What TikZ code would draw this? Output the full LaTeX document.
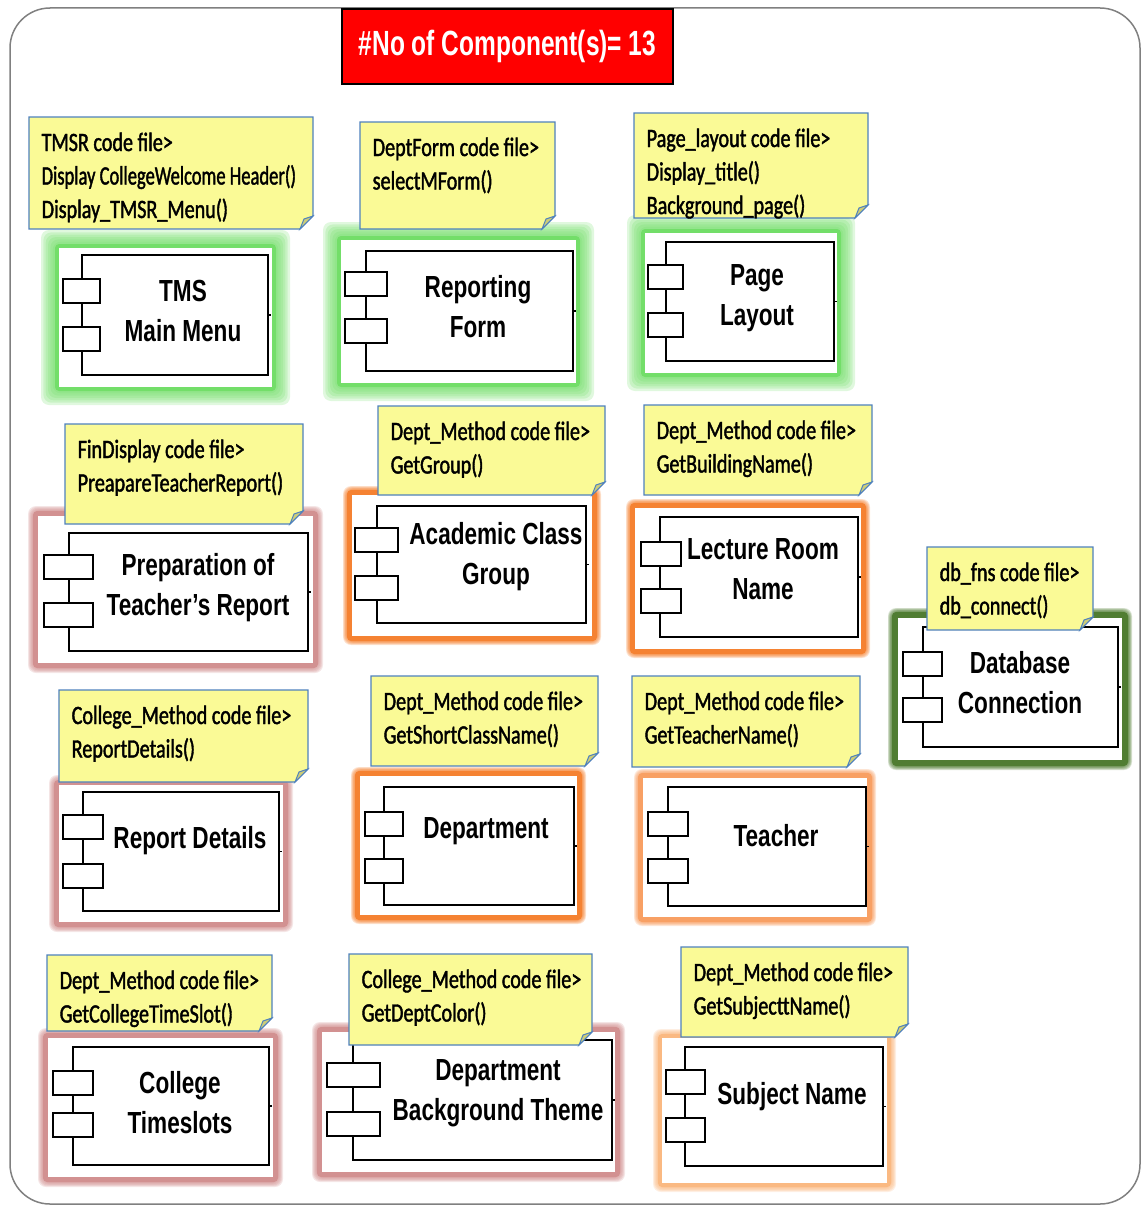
\documentclass[tikz,border=0pt]{standalone}
\usepackage{fontspec}
\usetikzlibrary{calc}

\newfontfamily\notefont[FakeStretch=0.76,FakeBold=1.5]{Carlito}
\newfontfamily\labelfont[FakeStretch=0.74]{Liberation Sans}
\newfontfamily\headfont[FakeStretch=0.70]{Liberation Sans}

\definecolor{noteyellow}{RGB}{250,250,150}
\definecolor{noteedge}{RGB}{79,129,189}
\definecolor{notefold}{RGB}{205,205,120}
\definecolor{haloGreen}{RGB}{115,222,105}
\definecolor{haloRose}{RGB}{210,145,145}
\definecolor{haloOrange}{RGB}{245,130,50}
\definecolor{haloPeach}{RGB}{248,160,100}
\definecolor{haloApricot}{RGB}{250,185,130}
\definecolor{haloForest}{RGB}{80,125,50}
\definecolor{frameGrey}{RGB}{128,128,128}

\tikzset{
  notetext/.style={font=\notefont\fontsize{26.5}{33}\selectfont, anchor=base west, inner sep=0pt},
  complabel/.style={font=\labelfont\bfseries\fontsize{30.5}{40}\selectfont, align=center, inner sep=0pt},
  compline/.style={line width=2.2pt, line join=miter},
  portbox/.style={line width=2pt, fill=white},
}

% soft coloured halo behind a white panel: colour, solid band, soft band, corner, corner
\newcommand\halo[5]{%
  \foreach \k in {6,5,4,3,2,1}{%
    \pgfmathsetmacro\dd{#2+#3*\k/6}%
    \fill[#1, opacity=0.22, rounded corners=8pt] ($(#4)+(-\dd,-\dd)$) rectangle ($(#5)+(\dd,\dd)$);
  }%
  \fill[#1, rounded corners=4pt] ($(#4)+(-#2,-#2)$) rectangle ($(#5)+(#2,#2)$);
  \fill[white] (#4) rectangle (#5);
}

% UML component symbol: body box, right stub, two port boxes on the left edge
\newcommand\component[8]{%
  \draw[compline] (#1,#2) rectangle (#3,#4);
  \draw[line width=1.5pt] (#3,{(#2+#4)/2}) -- ++(3,0);
  \draw[portbox] (#5,#7) rectangle (#6,{#7+24});
  \draw[portbox] (#5,#8) rectangle (#6,{#8+24});
}

% yellow note with folded corner: x1, y1, x2, y2, name, lines
\newcommand\codenote[6]{%
  \filldraw[fill=noteyellow, draw=noteedge, line width=1.3pt]
    (#1,#2) -- (#3,#2) -- (#3,{#4-13}) -- ({#3-13},#4) -- (#1,#4) -- cycle;
  \filldraw[fill=notefold, draw=noteedge, line width=1pt]
    ({#3-13},#4) -- ({#3-9},{#4-10}) -- (#3,{#4-13}) -- cycle;
  \foreach \ln [count=\i] in {#6}{%
    \node[notetext] (#5-\i) at ({#1+12.5},{#2+34+33.5*(\i-1)}) {\ln};
  }%
}

\begin{document}
\begin{tikzpicture}[x=1pt,y=-1pt]
\useasboundingbox (0,0) rectangle (1144,1207);

% outer frame
\draw[frameGrey, line width=1.5pt, rounded corners=40pt] (10,8) rectangle (1140,1204);

% halos and component symbols
\halo{haloGreen}{4}{14}{59,248}{272,387}
\component{82}{255}{268}{375}{63}{100}{279}{327}
\halo{haloGreen}{4}{14}{341,240}{576,383}
\component{366}{251}{573}{371}{345}{387}{272}{319}
\halo{haloGreen}{4}{14}{645,233}{837,373}
\component{666}{242}{834}{361}{648}{683}{265}{313}

\halo{haloRose}{5}{5}{38,516}{313,663}
\component{69}{533}{308}{651}{44}{93}{555}{603}
\halo{haloOrange}{5}{4}{352,495}{592,636}
\component{377}{506}{586}{623}{355}{398}{528}{576}
\halo{haloOrange}{5}{4}{635,508}{861,649}
\component{660}{517}{858}{637}{641}{681}{542}{589}
\halo{haloForest}{6}{4}{898,618}{1122,760}
\component{923}{627}{1118}{747}{903}{942}{652}{698}

\halo{haloRose}{5}{5}{59,785}{283,922}
\component{83}{792}{279}{911}{63}{103}{815}{864}
\halo{haloOrange}{5}{4}{360,776}{577,915}
\component{384}{787}{574}{905}{365}{403}{812}{859}
\halo{haloPeach}{5}{4}{643,778}{867,917}
\component{668}{787}{866}{906}{648}{688}{812}{859}

\halo{haloRose}{5}{5}{48,1038}{273,1177}
\component{73}{1047}{269}{1165}{53}{93}{1071}{1113}
\halo{haloRose}{5}{5}{322,1032}{615,1172}
\component{353}{1040}{612}{1160}{327}{380}{1063}{1112}
\halo{haloApricot}{4}{5}{662,1038}{887,1183}
\component{685}{1047}{883}{1166}{666}{705}{1070}{1118}

% code file notes
\codenote{29}{117}{313}{229}{tmsNote}{TMSR code file>, {\scalebox{0.92}[1]{Display CollegeWelcome Header()}}, Display\_TMSR\_Menu()}
\codenote{360}{122}{555}{229}{formNote}{DeptForm code file>, selectMForm()}
\codenote{634}{113}{868}{218}{layoutNote}{Page\_layout code file>, Display\_title(), Background\_page()}
\codenote{65}{424}{303}{524}{finNote}{FinDisplay code file>, PreapareTeacherReport()}
\codenote{378}{406}{605}{495}{groupNote}{Dept\_Method code file>, GetGroup()}
\codenote{644}{405}{872}{495}{buildingNote}{Dept\_Method code file>, GetBuildingName()}
\codenote{927}{547}{1093}{630}{dbNote}{db\_fns code file>, db\_connect()}
\codenote{59}{690}{308}{782}{reportNote}{College\_Method code file>, ReportDetails()}
\codenote{371}{676}{598}{766}{classNote}{Dept\_Method code file>, GetShortClassName()}
\codenote{632}{676}{860}{767}{teacherNote}{Dept\_Method code file>, GetTeacherName()}
\codenote{47}{955}{272}{1031}{slotNote}{Dept\_Method code file>, GetCollegeTimeSlot()}
\codenote{349}{954}{592}{1045}{colorNote}{College\_Method code file>, GetDeptColor()}
\codenote{681}{947}{908}{1037}{subjectNote}{Dept\_Method code file>, GetSubjecttName()}

% component names
\node[complabel] (tmsLabel) at (183,311) {TMS\\Main Menu};
\node[complabel] (formLabel) at (478,307) {Reporting\\Form};
\node[complabel] (layoutLabel) at (757,298) {Page\\Layout};
\node[complabel] (prepLabel) at (198,588) {Preparation of\\Teacher’s Report};
\node[complabel] (groupLabel) at (496,557) {Academic Class\\Group};
\node[complabel] (roomLabel) at (763,569) {Lecture Room\\Name};
\node[complabel] (dbLabel) at (1020,683) {Database\\Connection};
\node[complabel] (detailsLabel) at (190,841) {Report Details};
\node[complabel] (deptLabel) at (486,831) {Department};
\node[complabel] (teacherLabel) at (776,836) {Teacher};
\node[complabel] (slotsLabel) at (180,1103) {College\\Timeslots};
\node[complabel] (themeLabel) at (498,1093) {Department\\Background Theme};
\node[complabel] (subjectLabel) at (792,1097) {Subject Name};

% component count banner
\node[fill=red, draw=black, line width=1.2pt, minimum width=331pt, minimum height=75pt,
      inner sep=0pt, text=white, font=\headfont\bfseries\fontsize{35}{40}\selectfont]
      (countTitle) at (507.5,46.5) {\#No of Component(s)= 13};
\end{tikzpicture}
\end{document}
